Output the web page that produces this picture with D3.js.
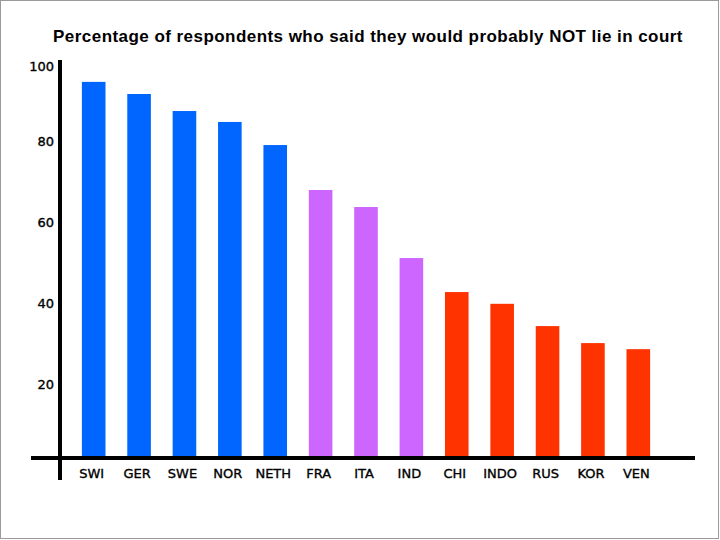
<!DOCTYPE html>
<html>
<head>
<meta charset="utf-8">
<script src="https://cdn.jsdelivr.net/npm/d3@7"></script>
<style>
    body { margin: 0; background: #fff; }
</style>
</head>
<body>
<div id="chart"></div>
<script>
// data
const countries = ["SWI", "GER", "SWE", "NOR", "NETH", "FRA", "ITA", "IND", "CHI", "INDO", "RUS", "KOR", "VEN"];
const values = [94.6, 91.6, 87.4, 84.7, 79.0, 67.9, 63.7, 51.1, 42.7, 39.8, 34.3, 30.1, 28.6];
const groups = ["high", "high", "high", "high", "high", "mid", "mid", "mid", "low", "low", "low", "low", "low"];
const yTicks = [20, 40, 60, 80, 100];
const title = "Percentage of respondents who said they would probably NOT lie in court";

function init() {
    const w = 720;
    const h = 540;
    const baseline = 458;

    const svg = d3.select("#chart")
        .append("svg")
        .attr("width", w)
        .attr("height", h);

    // grey frame round the slide
    svg.append("rect")
        .attr("x", 0.5)
        .attr("y", 0.5)
        .attr("width", w - 2)
        .attr("height", h - 2)
        .attr("fill", "#fff")
        .attr("stroke", "#9a9a9a")
        .attr("stroke-width", 1);

    const x = d3.scaleBand()
        .domain(countries)
        .range([71, 661])
        .paddingInner(0.48)
        .paddingOuter(0.24);

    const y = d3.scaleLinear()
        .domain([0, 100])
        .range([465, 60]);

    const color = d3.scaleOrdinal()
        .domain(["high", "mid", "low"])
        .range(["#0066ff", "#cc66ff", "#ff3300"]);

    svg.append("text")
        .attr("x", 368)
        .attr("y", 42)
        .attr("text-anchor", "middle")
        .style("font-family", "'Liberation Sans', Arial, sans-serif")
        .style("font-weight", "bold")
        .style("font-size", "17px")
        .style("letter-spacing", "0.45px")
        .text(title);

    svg.selectAll("rect.bar")
        .data(countries)
        .enter()
        .append("rect")
        .attr("class", "bar")
        .attr("x", d => x(d))
        .attr("width", x.bandwidth())
        .attr("y", (d, i) => y(values[i]))
        .attr("height", (d, i) => baseline - y(values[i]))
        .attr("fill", (d, i) => color(groups[i]));

    // left axis: just the tick labels, the line is drawn by hand below
    const yAxis = d3.axisLeft(y)
        .tickValues(yTicks)
        .tickSize(0)
        .tickPadding(0);

    const gy = svg.append("g")
        .attr("transform", "translate(54,0)")
        .call(yAxis);
    gy.select(".domain").remove();
    gy.selectAll("text")
        .style("font-family", "'DejaVu Sans', Verdana, sans-serif")
        .style("font-size", "13px")
        .attr("fill", "#000")
        .attr("stroke", "#000")
        .attr("stroke-width", 0.35)
        .attr("dy", d => d === 100 ? "0.82em" : "0.32em");

    const xAxis = d3.axisBottom(x)
        .tickSize(0)
        .tickPadding(0);

    const gx = svg.append("g")
        .attr("transform", "translate(-2,469)")
        .call(xAxis);
    gx.select(".domain").remove();
    gx.selectAll("text")
        .style("font-family", "'DejaVu Sans', Verdana, sans-serif")
        .style("font-size", "13px")
        .attr("fill", "#000")
        .attr("stroke", "#000")
        .attr("stroke-width", 0.35);

    svg.append("line")
        .attr("x1", 31)
        .attr("x2", 695)
        .attr("y1", baseline)
        .attr("y2", baseline)
        .attr("stroke", "#000")
        .attr("stroke-width", 4);

    svg.append("line")
        .attr("x1", 60)
        .attr("x2", 60)
        .attr("y1", 60)
        .attr("y2", 480)
        .attr("stroke", "#000")
        .attr("stroke-width", 4);
}

window.addEventListener('load', init);
</script>
</body>
</html>
